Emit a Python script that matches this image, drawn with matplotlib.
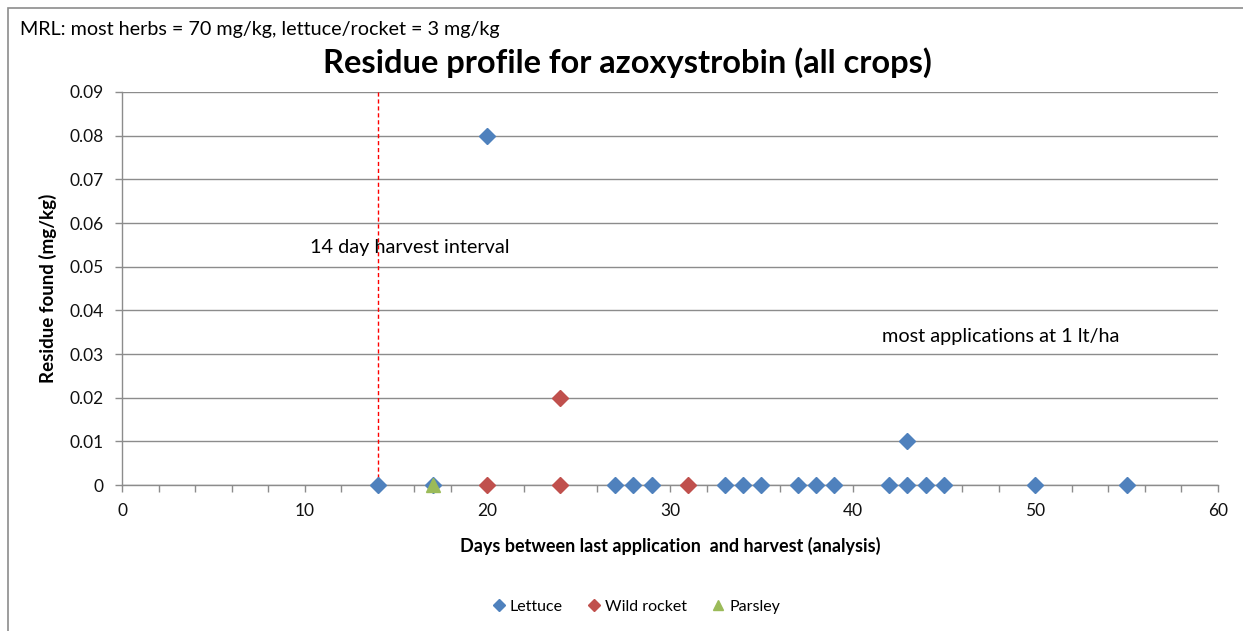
import matplotlib
matplotlib.use("Agg")
import matplotlib.pyplot as plt
from matplotlib.patches import Rectangle
from matplotlib.ticker import MultipleLocator

plt.rcParams['font.family'] = ['Lato', 'DejaVu Sans']

lettuce_x = [14, 17, 20, 27, 28, 29, 33, 34, 35, 37, 38, 39, 42, 43, 43, 44, 45, 50, 55]
lettuce_y = [0, 0, 0.08, 0, 0, 0, 0, 0, 0, 0, 0, 0, 0, 0, 0.01, 0, 0, 0, 0]
rocket_x = [20, 24, 24, 31]
rocket_y = [0, 0.02, 0, 0]
parsley_x = [17]
parsley_y = [0]
harvest_interval = 14

W, H = 1243, 631
fig = plt.figure(figsize=(W / 100, H / 100), dpi=100)

def fx(px):
    return px / W

def fy(py):
    return 1 - py / H

# outer chart border
fig.patches.append(Rectangle((fx(8), fy(H + 5)), 1.2, fy(8) - fy(H + 5),
                             transform=fig.transFigure, fill=False,
                             edgecolor='#8c8c8c', linewidth=1.2))

ax = fig.add_axes([fx(122), fy(485), fx(1218) - fx(122), fy(92) - fy(485)])
ax.set_xlim(0, 60)
ax.set_ylim(0, 0.09)
ax.xaxis.set_major_locator(MultipleLocator(10))
ax.xaxis.set_minor_locator(MultipleLocator(2))
ax.yaxis.set_major_locator(MultipleLocator(0.01))
ax.yaxis.set_major_formatter(matplotlib.ticker.FuncFormatter(
    lambda v, p: '0' if abs(v) < 1e-9 else f'{v:.2f}'))

ax.grid(axis='y', color='#8c8c8c', linewidth=1)
ax.set_axisbelow(True)
for s in ['top', 'right']:
    ax.spines[s].set_visible(False)
for s in ['left', 'bottom']:
    ax.spines[s].set_color('#8c8c8c')
    ax.spines[s].set_linewidth(1)
ax.tick_params(axis='both', which='both', color='#8c8c8c', direction='out',
               length=5, width=1, labelsize=12.5, labelcolor='#111111')
ax.tick_params(axis='y', pad=8)
ax.tick_params(axis='x', pad=8)

ax.axvline(harvest_interval, color='#ff0000', linestyle=(0, (3, 2)), linewidth=1, zorder=2)

ax.plot(lettuce_x, lettuce_y, linestyle='none', marker='D', markersize=8.5,
        color='#4F81BD', label='Lettuce', zorder=3, clip_on=False)
ax.plot(rocket_x, rocket_y, linestyle='none', marker='D', markersize=8.5,
        color='#C0504D', label='Wild rocket', zorder=3, clip_on=False)
ax.plot(parsley_x, parsley_y, linestyle='none', marker='^', markersize=10.5,
        color='#9BBB59', label='Parsley', zorder=4, clip_on=False)

ax.text(10.3, 0.0545, '14 day harvest interval', fontsize=14.3, ha='left', va='center')
ax.text(41.6, 0.0339, 'most applications at 1 lt/ha', fontsize=14.3, ha='left', va='center')

ax.set_xlabel('Days between last application  and harvest (analysis)',
              fontsize=13, fontweight='bold', labelpad=13)
ax.set_ylabel('Residue found (mg/kg)', fontsize=13.5, fontweight='bold', labelpad=9)

fig.text(fx(20), fy(29), 'MRL: most herbs = 70 mg/kg, lettuce/rocket = 3 mg/kg',
         fontsize=14.2, ha='left', va='center')
fig.text(fx(627), fy(63), 'Residue profile for azoxystrobin (all crops)',
         fontsize=23.5, fontweight='bold', ha='center', va='center')

leg = fig.legend(loc='center', bbox_to_anchor=(fx(636), fy(607)), ncol=3,
                 frameon=False, fontsize=11.5, handletextpad=0.25, columnspacing=1.5,
                 markerscale=0.7, handlelength=0.9)

fig.savefig('out.png', dpi=100)
